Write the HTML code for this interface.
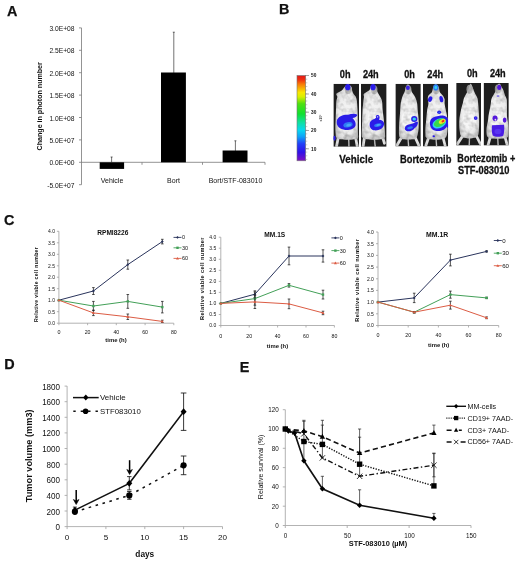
<!DOCTYPE html>
<html><head><meta charset="utf-8"><title>Figure</title>
<style>
html,body{margin:0;padding:0;background:#fff;}
body{width:520px;height:568px;overflow:hidden;font-family:"Liberation Sans",sans-serif;}
svg{display:block;}
#root{filter:blur(0.4px);}
text{font-family:"Liberation Sans",sans-serif;fill:#111;}
.b{font-weight:bold;}
.ax{stroke:#a0a0a0;stroke-width:0.8;fill:none;}
.k{stroke:#111;fill:none;}
#pA .ax{stroke:#787878;}
</style></head><body>
<svg id="root" width="520" height="568" viewBox="0 0 520 568">
<defs>
<linearGradient id="cb" x1="0" y1="0" x2="0" y2="1">
<stop offset="0" stop-color="#e01818"/><stop offset="0.05" stop-color="#f03010"/><stop offset="0.10" stop-color="#f87808"/><stop offset="0.20" stop-color="#f8e800"/><stop offset="0.25" stop-color="#d8f000"/>
<stop offset="0.33" stop-color="#50e010"/><stop offset="0.45" stop-color="#10e030"/><stop offset="0.55" stop-color="#10e0a0"/><stop offset="0.64" stop-color="#08d8f0"/><stop offset="0.72" stop-color="#10a0f8"/>
<stop offset="0.80" stop-color="#2040f8"/><stop offset="0.90" stop-color="#3010e8"/><stop offset="1" stop-color="#8010c0"/>
</linearGradient>
<filter id="bl" x="-20%" y="-20%" width="140%" height="140%"><feGaussianBlur stdDeviation="0.7"/></filter>
<radialGradient id="mg" cx="0.5" cy="0.55" r="0.6"><stop offset="0" stop-color="#f7f7f7"/><stop offset="0.6" stop-color="#ececec"/><stop offset="0.85" stop-color="#d6d6d6"/><stop offset="1" stop-color="#b4b4b4"/></radialGradient>
<filter id="bl3" x="-20%" y="-20%" width="140%" height="140%"><feGaussianBlur stdDeviation="0.45"/></filter>
<filter id="fur" x="-5%" y="-5%" width="110%" height="110%"><feTurbulence type="fractalNoise" baseFrequency="0.2" numOctaves="2" seed="7" result="n"/><feColorMatrix in="n" type="matrix" values="0 0 0 0 0  0 0 0 0 0  0 0 0 0 0  1.0 0 0 0 -0.40" result="a"/><feComposite in="a" in2="SourceGraphic" operator="in" result="sh"/><feMerge result="m"><feMergeNode in="SourceGraphic"/><feMergeNode in="sh"/></feMerge><feGaussianBlur in="m" stdDeviation="0.55"/></filter>
<filter id="bl2" x="-20%" y="-20%" width="140%" height="140%"><feGaussianBlur stdDeviation="1.2"/></filter>
</defs>
<rect width="520" height="568" fill="#fff"/>

<text class="b" x="6.9" y="15.9" font-size="14.4" stroke="#111" stroke-width="0.25">A</text>
<text class="b" x="279.1" y="14.4" font-size="14.4" stroke="#111" stroke-width="0.25">B</text>
<text class="b" x="4.1" y="224.7" font-size="14.4" stroke="#111" stroke-width="0.25">C</text>
<text class="b" x="4.35" y="368.8" font-size="14.4" stroke="#111" stroke-width="0.25">D</text>
<text class="b" x="239.85" y="371.9" font-size="14.4" stroke="#111" stroke-width="0.25">E</text>
<g id="pA">
<line class="ax" x1="81.5" y1="27.900000000000034" x2="81.5" y2="184.70000000000002"/>
<line class="ax" x1="81.5" y1="162.3" x2="265" y2="162.3"/>
<line class="ax" x1="79.0" y1="184.7" x2="81.5" y2="184.7"/>
<text x="74.5" y="187.7" font-size="6.7" text-anchor="end">-5.0E+07</text>
<line class="ax" x1="79.0" y1="162.3" x2="81.5" y2="162.3"/>
<text x="74.5" y="165.3" font-size="6.7" text-anchor="end">0.0E+00</text>
<line class="ax" x1="79.0" y1="139.9" x2="81.5" y2="139.9"/>
<text x="74.5" y="142.9" font-size="6.7" text-anchor="end">5.0E+07</text>
<line class="ax" x1="79.0" y1="117.5" x2="81.5" y2="117.5"/>
<text x="74.5" y="120.5" font-size="6.7" text-anchor="end">1.0E+08</text>
<line class="ax" x1="79.0" y1="95.1" x2="81.5" y2="95.1"/>
<text x="74.5" y="98.1" font-size="6.7" text-anchor="end">1.5E+08</text>
<line class="ax" x1="79.0" y1="72.7" x2="81.5" y2="72.7"/>
<text x="74.5" y="75.7" font-size="6.7" text-anchor="end">2.0E+08</text>
<line class="ax" x1="79.0" y1="50.3" x2="81.5" y2="50.3"/>
<text x="74.5" y="53.3" font-size="6.7" text-anchor="end">2.5E+08</text>
<line class="ax" x1="79.0" y1="27.9" x2="81.5" y2="27.9"/>
<text x="74.5" y="30.9" font-size="6.7" text-anchor="end">3.0E+08</text>
<rect x="99.7" y="162.3" width="24.4" height="6.6" fill="#000"/>
<rect x="161.0" y="72.5" width="24.9" height="89.80000000000001" fill="#000"/>
<rect x="222.6" y="150.5" width="24.9" height="11.800000000000011" fill="#000"/>
<path class="ax" d="M142 162.3v2.5M202.5 162.3v2.5M265 162.3v2.5"/>
<line class="k" stroke-width="0.6" x1="111.6" y1="157" x2="111.6" y2="162.3"/>
<line class="k" stroke-width="0.6" x1="110.6" y1="157" x2="112.6" y2="157"/>
<line class="k" stroke-width="0.6" x1="173.8" y1="32.2" x2="173.8" y2="73"/>
<line class="k" stroke-width="0.6" x1="172.8" y1="32.2" x2="174.8" y2="32.2"/>
<line class="k" stroke-width="0.6" x1="235.4" y1="140.8" x2="235.4" y2="151"/>
<line class="k" stroke-width="0.6" x1="234.4" y1="140.8" x2="236.4" y2="140.8"/>
<text x="112" y="183" font-size="7" text-anchor="middle">Vehicle</text>
<text x="173.5" y="183" font-size="7" text-anchor="middle">Bort</text>
<text x="235.5" y="183" font-size="7" text-anchor="middle">Bort/STF-083010</text>
<text class="b" transform="translate(42.4,106.3) rotate(-90)" font-size="7.1" text-anchor="middle">Change in photon number</text>
</g>
<g id="pB">
<rect x="297" y="75.5" width="8.7" height="85.3" fill="url(#cb)" stroke="#777" stroke-width="0.6"/>
<line x1="305.7" y1="75.5" x2="309" y2="75.5" stroke="#555" stroke-width="0.5"/>
<text x="311" y="77.2" font-size="4.8" class="b" fill="#2a2a3a">50</text>
<line x1="305.7" y1="94" x2="309" y2="94" stroke="#555" stroke-width="0.5"/>
<text x="311" y="95.7" font-size="4.8" class="b" fill="#2a2a3a">40</text>
<line x1="305.7" y1="112.2" x2="309" y2="112.2" stroke="#555" stroke-width="0.5"/>
<text x="311" y="113.9" font-size="4.8" class="b" fill="#2a2a3a">30</text>
<line x1="305.7" y1="130.5" x2="309" y2="130.5" stroke="#555" stroke-width="0.5"/>
<text x="311" y="132.2" font-size="4.8" class="b" fill="#2a2a3a">20</text>
<line x1="305.7" y1="148.8" x2="309" y2="148.8" stroke="#555" stroke-width="0.5"/>
<text x="311" y="150.5" font-size="4.8" class="b" fill="#2a2a3a">10</text>
<line x1="305.7" y1="79.2" x2="307.3" y2="79.2" stroke="#777" stroke-width="0.4"/>
<line x1="305.7" y1="82.8" x2="307.3" y2="82.8" stroke="#777" stroke-width="0.4"/>
<line x1="305.7" y1="86.5" x2="307.3" y2="86.5" stroke="#777" stroke-width="0.4"/>
<line x1="305.7" y1="90.1" x2="307.3" y2="90.1" stroke="#777" stroke-width="0.4"/>
<line x1="305.7" y1="93.8" x2="307.3" y2="93.8" stroke="#777" stroke-width="0.4"/>
<line x1="305.7" y1="97.4" x2="307.3" y2="97.4" stroke="#777" stroke-width="0.4"/>
<line x1="305.7" y1="101.0" x2="307.3" y2="101.0" stroke="#777" stroke-width="0.4"/>
<line x1="305.7" y1="104.7" x2="307.3" y2="104.7" stroke="#777" stroke-width="0.4"/>
<line x1="305.7" y1="108.3" x2="307.3" y2="108.3" stroke="#777" stroke-width="0.4"/>
<line x1="305.7" y1="112.0" x2="307.3" y2="112.0" stroke="#777" stroke-width="0.4"/>
<line x1="305.7" y1="115.7" x2="307.3" y2="115.7" stroke="#777" stroke-width="0.4"/>
<line x1="305.7" y1="119.3" x2="307.3" y2="119.3" stroke="#777" stroke-width="0.4"/>
<line x1="305.7" y1="122.9" x2="307.3" y2="122.9" stroke="#777" stroke-width="0.4"/>
<line x1="305.7" y1="126.6" x2="307.3" y2="126.6" stroke="#777" stroke-width="0.4"/>
<line x1="305.7" y1="130.2" x2="307.3" y2="130.2" stroke="#777" stroke-width="0.4"/>
<line x1="305.7" y1="133.9" x2="307.3" y2="133.9" stroke="#777" stroke-width="0.4"/>
<line x1="305.7" y1="137.6" x2="307.3" y2="137.6" stroke="#777" stroke-width="0.4"/>
<line x1="305.7" y1="141.2" x2="307.3" y2="141.2" stroke="#777" stroke-width="0.4"/>
<line x1="305.7" y1="144.8" x2="307.3" y2="144.8" stroke="#777" stroke-width="0.4"/>
<line x1="305.7" y1="148.5" x2="307.3" y2="148.5" stroke="#777" stroke-width="0.4"/>
<line x1="305.7" y1="152.1" x2="307.3" y2="152.1" stroke="#777" stroke-width="0.4"/>
<line x1="305.7" y1="155.8" x2="307.3" y2="155.8" stroke="#777" stroke-width="0.4"/>
<line x1="305.7" y1="159.4" x2="307.3" y2="159.4" stroke="#777" stroke-width="0.4"/>
<text transform="translate(322,118) rotate(-90)" font-size="3.5" text-anchor="middle" fill="#444">x10⁶</text>
<svg x="333.4" y="83.8" width="25.6" height="63.0" viewBox="0 0 26 62.5" preserveAspectRatio="none" overflow="hidden">
<rect width="26" height="62.5" fill="#1e1e1e"/>
<g filter="url(#fur)">
<path d="M15.5,54 L15.8,62.5" stroke="#c4c4c4" stroke-width="1.4" fill="none"/>
<path d="M5,53 L3.2,62" stroke="#e2e2e2" stroke-width="2.8" fill="none" stroke-linecap="round"/>
<path d="M22.5,53 L24.2,62" stroke="#e2e2e2" stroke-width="2.8" fill="none" stroke-linecap="round"/>
<path d="M7.50,55.03C4.25,54.72 3.87,54.01 3.00,53.17C2.13,52.33 2.47,51.53 2.30,50.00C2.13,48.47 2.00,46.40 2.00,44.00C2.00,41.60 2.20,38.60 2.30,35.60C2.40,32.60 2.48,28.98 2.60,26.00C2.72,23.02 2.77,19.88 3.00,17.70C3.23,15.52 4.00,14.20 4.00,12.90C4.00,11.60 2.32,10.90 3.00,9.90C3.68,8.90 6.73,8.00 8.10,6.90C9.47,5.80 10.18,4.33 11.20,3.30C12.22,2.27 13.50,1.13 14.20,0.70C14.90,0.27 14.68,0.27 15.40,0.70C16.12,1.13 17.88,2.27 18.50,3.30C19.12,4.33 18.80,5.80 19.10,6.90C19.40,8.00 19.70,8.90 20.30,9.90C20.90,10.90 22.10,11.60 22.70,12.90C23.30,14.20 23.60,15.52 23.90,17.70C24.20,19.88 24.35,23.02 24.50,26.00C24.65,28.98 24.75,32.60 24.80,35.60C24.85,38.60 24.77,41.60 24.80,44.00C24.83,46.40 24.97,48.47 25.00,50.00C25.03,51.53 25.42,52.33 25.00,53.17C24.58,54.01 25.42,54.72 22.50,55.03C19.58,55.34 10.75,55.34 7.50,55.03Z" fill="url(#mg)"/>
<ellipse cx="15.0" cy="5.7" rx="3.2" ry="4.5" fill="#b0b0b0" opacity="0.8"/>
<ellipse cx="15.0" cy="36" rx="7" ry="10" fill="#f8f8f8" opacity="0.75"/>
<ellipse cx="15.0" cy="53" rx="5" ry="2.6" fill="#cacaca" opacity="0.7"/>
</g>
<g filter="url(#bl3)">
<ellipse cx="14.6" cy="3.3" rx="2.7" ry="3.105" fill="#2b1ee8"/>
<path d="M3.4,37 C4.4,32.4 10,30.6 15,30.8 C18,29.6 22,29.2 24.4,30.6 C24.2,32.6 21.6,33.4 19.4,34 C21.2,35.8 23,38 22.6,41 C21.4,44.6 16.6,46.2 12,45.8 C7,45.4 2.6,42 3.4,37Z" fill="#2b1ee8"/>
<ellipse cx="14.8" cy="40.6" rx="4.8" ry="2.6" fill="#2f7cf4" transform="rotate(-12,14.8,40.6)"/>
<ellipse cx="15.6" cy="41" rx="2.6" ry="1.3" fill="#49a8f6" transform="rotate(-12,15.6,41)"/>
<ellipse cx="1.0" cy="54" rx="1.3" ry="2.4" fill="#2b1ee8" transform="rotate(0,1.0,54)"/>
</g></svg>
<svg x="361" y="83.8" width="25.6" height="63.0" viewBox="0 0 26 62.5" preserveAspectRatio="none" overflow="hidden">
<rect width="26" height="62.5" fill="#1e1e1e"/>
<g filter="url(#fur)">
<path d="M13.5,54 L14.5,62.5" stroke="#c4c4c4" stroke-width="1.4" fill="none"/>
<path d="M3.5,53 L2.2,61.5" stroke="#e2e2e2" stroke-width="2.8" fill="none" stroke-linecap="round"/>
<path d="M22,53 L23.8,59" stroke="#e2e2e2" stroke-width="2.8" fill="none" stroke-linecap="round"/>
<path d="M6.00,55.03C2.73,54.74 2.28,54.13 1.40,53.29C0.52,52.46 0.78,51.55 0.70,50.00C0.62,48.45 0.82,46.40 0.90,44.00C0.98,41.60 1.08,38.60 1.20,35.60C1.32,32.60 1.40,28.98 1.60,26.00C1.80,23.02 2.17,19.88 2.40,17.70C2.63,15.52 2.90,14.20 3.00,12.90C3.10,11.60 2.08,11.00 3.00,9.90C3.92,8.80 7.43,7.38 8.50,6.30C9.57,5.22 8.92,4.30 9.40,3.40C9.88,2.50 10.80,1.32 11.40,0.90C12.00,0.48 12.37,0.48 13.00,0.90C13.63,1.32 14.72,2.50 15.20,3.40C15.68,4.30 15.48,5.22 15.90,6.30C16.32,7.38 17.10,8.80 17.70,9.90C18.30,11.00 18.88,11.60 19.50,12.90C20.12,14.20 20.98,15.52 21.40,17.70C21.82,19.88 21.70,23.02 22.00,26.00C22.30,28.98 22.87,32.60 23.20,35.60C23.53,38.60 23.80,41.60 24.00,44.00C24.20,46.40 24.37,48.45 24.40,50.00C24.43,51.55 24.77,52.46 24.20,53.29C23.63,54.13 24.03,54.74 21.00,55.03C17.97,55.32 9.27,55.32 6.00,55.03Z" fill="url(#mg)"/>
<ellipse cx="13.5" cy="5.9" rx="3.2" ry="4.5" fill="#b0b0b0" opacity="0.8"/>
<ellipse cx="13.5" cy="36" rx="7" ry="10" fill="#f8f8f8" opacity="0.75"/>
<ellipse cx="13.5" cy="53" rx="5" ry="2.6" fill="#cacaca" opacity="0.7"/>
</g>
<g filter="url(#bl3)">
<ellipse cx="12.2" cy="3.4" rx="2.7" ry="3.105" fill="#2b1ee8"/>
<path d="M9,38.6 C10,35.6 13.4,35.4 15.4,33.6 C14.4,31.6 15.8,30.4 17.6,31 C19.4,32 19.2,34.2 18.2,35.6 C21,35.6 24,37 23.4,40.4 C22.8,44.4 18.4,46.4 14,46.2 C10.2,46 8,42.8 9,38.6Z" fill="#2b1ee8"/>
<ellipse cx="17.1" cy="41" rx="3.8" ry="1.7" fill="#2f7cf4" transform="rotate(-12,17.1,41)"/>
<ellipse cx="17.6" cy="40.8" rx="2" ry="0.9" fill="#49a8f6" transform="rotate(-12,17.6,40.8)"/>
<ellipse cx="16.8" cy="32.8" rx="0.8" ry="0.7" fill="#e4e4f4" transform="rotate(0,16.8,32.8)"/>
</g></svg>
<svg x="395.4" y="83.8" width="25.4" height="62.7" viewBox="0 0 26 62.5" preserveAspectRatio="none" overflow="hidden">
<rect width="26" height="62.5" fill="#1e1e1e"/>
<g filter="url(#fur)">
<path d="M13,54 L13.5,62.5" stroke="#c4c4c4" stroke-width="1.4" fill="none"/>
<path d="M6.5,53 L1.5,61.5" stroke="#e2e2e2" stroke-width="2.8" fill="none" stroke-linecap="round"/>
<path d="M20,53 L24,61.5" stroke="#e2e2e2" stroke-width="2.8" fill="none" stroke-linecap="round"/>
<path d="M7.40,55.15C4.98,54.84 5.12,54.15 4.50,53.29C3.88,52.44 3.83,51.55 3.70,50.00C3.57,48.45 3.62,46.40 3.70,44.00C3.78,41.60 4.00,38.40 4.20,35.60C4.40,32.80 4.70,29.80 4.90,27.20C5.10,24.60 5.15,21.98 5.40,20.00C5.65,18.02 6.03,16.68 6.40,15.30C6.77,13.92 7.10,12.90 7.60,11.70C8.10,10.50 8.90,9.38 9.40,8.10C9.90,6.82 10.17,5.18 10.60,4.00C11.03,2.82 11.50,1.50 12.00,1.00C12.50,0.50 13.07,0.50 13.60,1.00C14.13,1.50 14.67,2.82 15.20,4.00C15.73,5.18 16.12,6.82 16.80,8.10C17.48,9.38 18.58,10.50 19.30,11.70C20.02,12.90 20.60,13.92 21.10,15.30C21.60,16.68 22.00,18.02 22.30,20.00C22.60,21.98 22.65,24.60 22.90,27.20C23.15,29.80 23.65,32.80 23.80,35.60C23.95,38.40 23.95,41.60 23.80,44.00C23.65,46.40 23.25,48.45 22.90,50.00C22.55,51.55 22.35,52.44 21.70,53.29C21.05,54.15 21.38,54.84 19.00,55.15C16.62,55.46 9.82,55.46 7.40,55.15Z" fill="url(#mg)"/>
<ellipse cx="13.2" cy="6.0" rx="3.2" ry="4.5" fill="#b0b0b0" opacity="0.8"/>
<ellipse cx="13.2" cy="36" rx="7" ry="10" fill="#f8f8f8" opacity="0.75"/>
<ellipse cx="13.2" cy="53" rx="5" ry="2.6" fill="#cacaca" opacity="0.7"/>
</g>
<g filter="url(#bl3)">
<ellipse cx="12.8" cy="3.9" rx="2.0" ry="2.3" fill="#3a22e0"/>
<ellipse cx="19.3" cy="35" rx="3.2" ry="3.0" fill="#2b1ee8" transform="rotate(0,19.3,35)"/>
<ellipse cx="19.3" cy="35" rx="1.8" ry="1.5" fill="#30d0f0" transform="rotate(0,19.3,35)"/>
<path d="M9.8,43.6 C10.8,40.6 14,40.4 17,39.8 C19.4,39.2 21.4,37 23,38 C23.4,40.6 21.8,42.8 19.8,44 C18,46.8 14.4,47.8 12,47.2 C10,46.8 9.2,45.2 9.8,43.6Z" fill="#2b1ee8"/>
<ellipse cx="15" cy="43.8" rx="3" ry="1.3" fill="#2f7cf4" transform="rotate(-10,15,43.8)"/>
</g></svg>
<svg x="423" y="83.8" width="25.2" height="62.7" viewBox="0 0 26 62.5" preserveAspectRatio="none" overflow="hidden">
<rect width="26" height="62.5" fill="#1e1e1e"/>
<g filter="url(#fur)">
<path d="M13.5,54 L14,62.5" stroke="#c4c4c4" stroke-width="1.4" fill="none"/>
<path d="M6,53 L3,61.5" stroke="#e2e2e2" stroke-width="2.8" fill="none" stroke-linecap="round"/>
<path d="M20.5,53 L22.8,61.5" stroke="#e2e2e2" stroke-width="2.8" fill="none" stroke-linecap="round"/>
<path d="M7.00,55.22C4.18,54.90 3.85,54.16 3.10,53.29C2.35,52.42 2.60,51.55 2.50,50.00C2.40,48.45 2.40,46.00 2.50,44.00C2.60,42.00 2.90,40.00 3.10,38.00C3.30,36.00 3.50,34.00 3.70,32.00C3.90,30.00 3.98,28.00 4.30,26.00C4.62,24.00 5.48,21.78 5.60,20.00C5.72,18.22 5.00,16.68 5.00,15.30C5.00,13.92 4.88,12.90 5.60,11.70C6.32,10.50 8.50,9.38 9.30,8.10C10.10,6.82 9.88,5.18 10.40,4.00C10.92,2.82 11.80,1.50 12.40,1.00C13.00,0.50 13.37,0.50 14.00,1.00C14.63,1.50 15.65,2.82 16.20,4.00C16.75,5.18 16.60,6.82 17.30,8.10C18.00,9.38 19.57,10.50 20.40,11.70C21.23,12.90 21.98,13.92 22.30,15.30C22.62,16.68 22.10,18.22 22.30,20.00C22.50,21.78 23.08,24.00 23.50,26.00C23.92,28.00 24.48,30.00 24.80,32.00C25.12,34.00 25.30,36.00 25.40,38.00C25.50,40.00 25.50,42.00 25.40,44.00C25.30,46.00 25.12,48.45 24.80,50.00C24.48,51.55 24.30,52.42 23.50,53.29C22.70,54.16 22.75,54.90 20.00,55.22C17.25,55.54 9.82,55.54 7.00,55.22Z" fill="url(#mg)"/>
<ellipse cx="13.5" cy="6.0" rx="3.2" ry="4.5" fill="#b0b0b0" opacity="0.8"/>
<ellipse cx="13.5" cy="36" rx="7" ry="10" fill="#f8f8f8" opacity="0.75"/>
<ellipse cx="13.5" cy="53" rx="5" ry="2.6" fill="#cacaca" opacity="0.7"/>
</g>
<g filter="url(#bl3)">
<ellipse cx="13.2" cy="3.6" rx="2.7" ry="3.105" fill="#2f7cf4"/>
<ellipse cx="13.2" cy="3.6" rx="1.4850000000000003" ry="1.62" fill="#30d0f0"/>
<ellipse cx="7.4" cy="15.3" rx="2.1" ry="2.9" fill="#2b1ee8" transform="rotate(25,7.4,15.3)"/>
<ellipse cx="18.9" cy="15.3" rx="1.9" ry="3.2" fill="#2b1ee8" transform="rotate(-12,18.9,15.3)"/>
<ellipse cx="16.7" cy="28.4" rx="2.1" ry="1.8" fill="#2b1ee8" transform="rotate(0,16.7,28.4)"/>
<ellipse cx="16.7" cy="28.4" rx="0.8" ry="0.6" fill="#2f7cf4" transform="rotate(0,16.7,28.4)"/>
<path d="M7.6,36.6 C9,32.8 14,32.6 17,31.8 C20,31 25,31.6 25.8,35.4 C26.4,39.4 25.4,43.6 21.4,45.8 C17.2,48 11.8,47.4 9.2,45 C7,42.8 6.6,39 7.6,36.6Z" fill="#2b1ee8"/>
<ellipse cx="16.8" cy="39.4" rx="7.4" ry="4.7" fill="#30d0f0" transform="rotate(-22,16.8,39.4)"/>
<ellipse cx="17.2" cy="38.8" rx="6.3" ry="3.7" fill="#38d848" transform="rotate(-24,17.2,38.8)"/>
<ellipse cx="19.8" cy="37.4" rx="3.7" ry="2.1" fill="#f0e628" transform="rotate(-26,19.8,37.4)"/>
<ellipse cx="20.6" cy="37.2" rx="1.6" ry="1.1" fill="#ee2a1c" transform="rotate(-26,20.6,37.2)"/>
<ellipse cx="11.1" cy="52.3" rx="1.3" ry="1" fill="#2b1ee8" transform="rotate(0,11.1,52.3)"/>
<ellipse cx="25.4" cy="41.6" rx="0.8" ry="2.4" fill="#2b1ee8" transform="rotate(0,25.4,41.6)"/>
</g></svg>
<svg x="456.2" y="83" width="24.8" height="62.6" viewBox="0 0 26 62.5" preserveAspectRatio="none" overflow="hidden">
<rect width="26" height="62.5" fill="#1e1e1e"/>
<g filter="url(#fur)">
<path d="M14,54 L13.6,62.5" stroke="#c4c4c4" stroke-width="1.4" fill="none"/>
<path d="M7,52.5 L1.5,60.5" stroke="#e2e2e2" stroke-width="2.8" fill="none" stroke-linecap="round"/>
<path d="M21,52.5 L25.2,60.5" stroke="#e2e2e2" stroke-width="2.8" fill="none" stroke-linecap="round"/>
<path d="M8.50,54.72C6.08,54.41 5.75,53.65 5.00,52.86C4.25,52.07 4.30,51.64 4.00,50.00C3.70,48.36 3.28,45.50 3.20,43.00C3.12,40.50 3.20,37.67 3.50,35.00C3.80,32.33 4.42,29.50 5.00,27.00C5.58,24.50 6.47,22.00 7.00,20.00C7.53,18.00 7.53,16.67 8.20,15.00C8.87,13.33 10.20,11.67 11.00,10.00C11.80,8.33 12.40,6.47 13.00,5.00C13.60,3.53 14.13,1.83 14.60,1.20C15.07,0.57 15.32,0.57 15.80,1.20C16.28,1.83 16.88,3.53 17.50,5.00C18.12,6.47 18.72,8.33 19.50,10.00C20.28,11.67 21.62,13.33 22.20,15.00C22.78,16.67 22.78,18.00 23.00,20.00C23.22,22.00 23.33,24.50 23.50,27.00C23.67,29.50 23.92,32.33 24.00,35.00C24.08,37.67 24.08,40.50 24.00,43.00C23.92,45.50 23.75,48.36 23.50,50.00C23.25,51.64 23.17,52.07 22.50,52.86C21.83,53.65 21.83,54.41 19.50,54.72C17.17,55.03 10.92,55.03 8.50,54.72Z" fill="url(#mg)"/>
<ellipse cx="14.0" cy="6.2" rx="3.2" ry="4.5" fill="#b0b0b0" opacity="0.8"/>
<ellipse cx="14.0" cy="36" rx="7" ry="10" fill="#f8f8f8" opacity="0.75"/>
<ellipse cx="14.0" cy="53" rx="5" ry="2.6" fill="#cacaca" opacity="0.7"/>
</g>
<g filter="url(#bl3)">
<ellipse cx="20.4" cy="35" rx="1.9" ry="1.9" fill="#2b1ee8" transform="rotate(0,20.4,35)"/>
<ellipse cx="20.4" cy="35" rx="0.8" ry="0.8" fill="#5a4af0" transform="rotate(0,20.4,35)"/>
</g></svg>
<svg x="483.6" y="83" width="25.2" height="62.6" viewBox="0 0 26 62.5" preserveAspectRatio="none" overflow="hidden">
<rect width="26" height="62.5" fill="#1e1e1e"/>
<g filter="url(#fur)">
<path d="M14.5,54.5 L15,62.5" stroke="#c4c4c4" stroke-width="1.4" fill="none"/>
<path d="M7,53.5 L4.6,62" stroke="#e2e2e2" stroke-width="2.8" fill="none" stroke-linecap="round"/>
<path d="M22,53.5 L24.4,62" stroke="#e2e2e2" stroke-width="2.8" fill="none" stroke-linecap="round"/>
<path d="M8.00,55.34C5.13,55.09 5.12,54.61 4.30,53.85C3.48,53.10 3.30,52.31 3.10,50.80C2.90,49.29 2.90,46.80 3.10,44.80C3.30,42.80 3.98,40.78 4.30,38.80C4.62,36.82 4.68,34.87 5.00,32.90C5.32,30.93 5.80,28.98 6.20,27.00C6.60,25.02 7.10,22.82 7.40,21.00C7.70,19.18 7.48,17.70 8.00,16.10C8.52,14.50 9.67,12.88 10.50,11.40C11.33,9.92 12.38,8.60 13.00,7.20C13.62,5.80 13.83,4.03 14.20,3.00C14.57,1.97 14.73,1.33 15.20,1.00C15.67,0.67 16.53,0.67 17.00,1.00C17.47,1.33 17.43,1.97 18.00,3.00C18.57,4.03 19.78,5.80 20.40,7.20C21.02,8.60 21.13,9.92 21.70,11.40C22.27,12.88 23.40,14.50 23.80,16.10C24.20,17.70 24.05,19.18 24.10,21.00C24.15,22.82 24.10,25.02 24.10,27.00C24.10,28.98 23.95,30.93 24.10,32.90C24.25,34.87 24.72,36.82 25.00,38.80C25.28,40.78 25.67,42.80 25.80,44.80C25.93,46.80 25.97,49.29 25.80,50.80C25.63,52.31 25.52,53.10 24.80,53.85C24.08,54.61 24.30,55.09 21.50,55.34C18.70,55.59 10.87,55.59 8.00,55.34Z" fill="url(#mg)"/>
<ellipse cx="14.75" cy="6.0" rx="3.2" ry="4.5" fill="#b0b0b0" opacity="0.8"/>
<ellipse cx="14.75" cy="36" rx="7" ry="10" fill="#f8f8f8" opacity="0.75"/>
<ellipse cx="14.75" cy="53" rx="5" ry="2.6" fill="#cacaca" opacity="0.7"/>
</g>
<g filter="url(#bl3)">
<ellipse cx="16.1" cy="4.4" rx="2.2" ry="2.53" fill="#5418dc"/>
<ellipse cx="11.8" cy="35.3" rx="2.6" ry="2.8" fill="#5418dc" transform="rotate(0,11.8,35.3)"/>
<ellipse cx="12.2" cy="36.8" rx="0.9" ry="1.0" fill="#e0e0e0" transform="rotate(0,12.2,36.8)"/>
<ellipse cx="21.7" cy="37" rx="1.9" ry="2.6" fill="#5418dc" transform="rotate(0,21.7,37)"/>
<path d="M8.8,42.2 L21,41.8 C21.6,45.6 21.4,49.6 20.2,52.6 C17.2,54 12.2,54 9.4,52.4 C8.2,49.4 8.2,45.4 8.8,42.2Z" fill="#4a1ce4"/>
<ellipse cx="14.8" cy="48.4" rx="3.6" ry="2.6" fill="#5a34f0" transform="rotate(0,14.8,48.4)"/>
<ellipse cx="14.9" cy="13.1" rx="1.6" ry="0.8" fill="#7a6ae8" transform="rotate(0,14.9,13.1)"/>
</g></svg>
<text class="b" transform="translate(345.2,77.5) scale(0.875,1)" font-size="10.5" text-anchor="middle" stroke="#111" stroke-width="0.3">0h</text>
<text class="b" transform="translate(370.8,77.5) scale(0.875,1)" font-size="10.5" text-anchor="middle" stroke="#111" stroke-width="0.3">24h</text>
<text class="b" transform="translate(409.6,77.9) scale(0.875,1)" font-size="10.5" text-anchor="middle" stroke="#111" stroke-width="0.3">0h</text>
<text class="b" transform="translate(435.2,77.9) scale(0.875,1)" font-size="10.5" text-anchor="middle" stroke="#111" stroke-width="0.3">24h</text>
<text class="b" transform="translate(472.3,76.6) scale(0.875,1)" font-size="10.5" text-anchor="middle" stroke="#111" stroke-width="0.3">0h</text>
<text class="b" transform="translate(497.8,76.6) scale(0.875,1)" font-size="10.5" text-anchor="middle" stroke="#111" stroke-width="0.3">24h</text>
<text class="b" transform="translate(356.2,163.3) scale(0.875,1)" font-size="11.2" text-anchor="middle" stroke="#111" stroke-width="0.3">Vehicle</text>
<text class="b" transform="translate(425.7,163.3) scale(0.835,1)" font-size="11.2" text-anchor="middle" stroke="#111" stroke-width="0.3">Bortezomib</text>
<text class="b" transform="translate(457.3,161.8) scale(0.86,1)" font-size="10.6" text-anchor="start" stroke="#111" stroke-width="0.3">Bortezomib +</text>
<text class="b" transform="translate(458,174) scale(0.875,1)" font-size="10.6" text-anchor="start" stroke="#111" stroke-width="0.3">STF-083010</text>
</g>
<g>
<line class="ax" x1="58.9" y1="231.3" x2="58.9" y2="323.2"/>
<line class="ax" x1="58.9" y1="323.2" x2="173.8" y2="323.2"/>
<line class="ax" x1="56.9" y1="323.2" x2="58.9" y2="323.2"/>
<text transform="translate(55.0,325.1) scale(0.88,1.1)" font-size="5.7" text-anchor="end">0.0</text>
<line class="ax" x1="56.9" y1="311.7" x2="58.9" y2="311.7"/>
<text transform="translate(55.0,313.6) scale(0.88,1.1)" font-size="5.7" text-anchor="end">0.5</text>
<line class="ax" x1="56.9" y1="300.2" x2="58.9" y2="300.2"/>
<text transform="translate(55.0,302.1) scale(0.88,1.1)" font-size="5.7" text-anchor="end">1.0</text>
<line class="ax" x1="56.9" y1="288.7" x2="58.9" y2="288.7"/>
<text transform="translate(55.0,290.6) scale(0.88,1.1)" font-size="5.7" text-anchor="end">1.5</text>
<line class="ax" x1="56.9" y1="277.2" x2="58.9" y2="277.2"/>
<text transform="translate(55.0,279.1) scale(0.88,1.1)" font-size="5.7" text-anchor="end">2.0</text>
<line class="ax" x1="56.9" y1="265.8" x2="58.9" y2="265.8"/>
<text transform="translate(55.0,267.7) scale(0.88,1.1)" font-size="5.7" text-anchor="end">2.5</text>
<line class="ax" x1="56.9" y1="254.3" x2="58.9" y2="254.3"/>
<text transform="translate(55.0,256.2) scale(0.88,1.1)" font-size="5.7" text-anchor="end">3.0</text>
<line class="ax" x1="56.9" y1="242.8" x2="58.9" y2="242.8"/>
<text transform="translate(55.0,244.7) scale(0.88,1.1)" font-size="5.7" text-anchor="end">3.5</text>
<line class="ax" x1="56.9" y1="231.3" x2="58.9" y2="231.3"/>
<text transform="translate(55.0,233.2) scale(0.88,1.1)" font-size="5.7" text-anchor="end">4.0</text>
<line class="ax" x1="58.9" y1="323.2" x2="58.9" y2="325.2"/>
<text x="58.9" y="333.6" font-size="5.7" text-anchor="middle" textLength="3.0" lengthAdjust="spacingAndGlyphs">0</text>
<line class="ax" x1="87.6" y1="323.2" x2="87.6" y2="325.2"/>
<text x="87.6" y="333.6" font-size="5.7" text-anchor="middle" textLength="5.8" lengthAdjust="spacingAndGlyphs">20</text>
<line class="ax" x1="116.3" y1="323.2" x2="116.3" y2="325.2"/>
<text x="116.3" y="333.6" font-size="5.7" text-anchor="middle" textLength="5.8" lengthAdjust="spacingAndGlyphs">40</text>
<line class="ax" x1="145.1" y1="323.2" x2="145.1" y2="325.2"/>
<text x="145.1" y="333.6" font-size="5.7" text-anchor="middle" textLength="5.8" lengthAdjust="spacingAndGlyphs">60</text>
<line class="ax" x1="173.8" y1="323.2" x2="173.8" y2="325.2"/>
<text x="173.8" y="333.6" font-size="5.7" text-anchor="middle" textLength="5.8" lengthAdjust="spacingAndGlyphs">80</text>
<text class="b" x="112.8" y="235.3" font-size="6.6" text-anchor="middle">RPMI8226</text>
<text class="b" transform="translate(38.0,284.4) rotate(-90)" font-size="5.1" letter-spacing="0.36" text-anchor="middle">Relative viable cell number</text>
<text class="b" x="116" y="342.1" font-size="5.9" text-anchor="middle">time (h)</text>
<path d="M93.4 287.6V294.5M92.1 287.6h2.6M92.1 294.5h2.6" stroke="#1c1c1c" stroke-width="0.75" fill="none"/>
<path d="M127.8 260.0V269.2M126.5 260.0h2.6M126.5 269.2h2.6" stroke="#1c1c1c" stroke-width="0.75" fill="none"/>
<path d="M162.3 239.3V243.9M161.0 239.3h2.6M161.0 243.9h2.6" stroke="#1c1c1c" stroke-width="0.75" fill="none"/>
<polyline points="58.9,300.2 93.4,291.0 127.8,264.6 162.3,241.6" fill="none" stroke="#2a345c" stroke-width="1.0"/>
<path d="M58.9 298.8l1.4 1.4l-1.4 1.4l-1.4 -1.4z" fill="#2a345c"/>
<path d="M93.4 289.6l1.4 1.4l-1.4 1.4l-1.4 -1.4z" fill="#2a345c"/>
<path d="M127.8 263.2l1.4 1.4l-1.4 1.4l-1.4 -1.4z" fill="#2a345c"/>
<path d="M162.3 240.2l1.4 1.4l-1.4 1.4l-1.4 -1.4z" fill="#2a345c"/>
<path d="M93.4 301.4V310.6M92.1 301.4h2.6M92.1 310.6h2.6" stroke="#1c1c1c" stroke-width="0.75" fill="none"/>
<path d="M127.8 294.5V308.3M126.5 294.5h2.6M126.5 308.3h2.6" stroke="#1c1c1c" stroke-width="0.75" fill="none"/>
<path d="M162.3 301.4V312.9M161.0 301.4h2.6M161.0 312.9h2.6" stroke="#1c1c1c" stroke-width="0.75" fill="none"/>
<polyline points="58.9,300.2 93.4,306.0 127.8,301.4 162.3,307.1" fill="none" stroke="#43a058" stroke-width="1.0"/>
<rect x="57.7" y="299.0" width="2.4" height="2.4" fill="#43a058"/>
<rect x="92.2" y="304.8" width="2.4" height="2.4" fill="#43a058"/>
<rect x="126.6" y="300.2" width="2.4" height="2.4" fill="#43a058"/>
<rect x="161.1" y="305.9" width="2.4" height="2.4" fill="#43a058"/>
<path d="M93.4 310.1V315.6M92.1 310.1h2.6M92.1 315.6h2.6" stroke="#1c1c1c" stroke-width="0.75" fill="none"/>
<path d="M127.8 314.0V319.5M126.5 314.0h2.6M126.5 319.5h2.6" stroke="#1c1c1c" stroke-width="0.75" fill="none"/>
<path d="M162.3 320.2V322.5M161.0 320.2h2.6M161.0 322.5h2.6" stroke="#1c1c1c" stroke-width="0.75" fill="none"/>
<polyline points="58.9,300.2 93.4,312.9 127.8,316.8 162.3,321.4" fill="none" stroke="#dc5c44" stroke-width="1.0"/>
<path d="M58.9 298.7l1.5 2.6h-3z" fill="#dc5c44"/>
<path d="M93.4 311.4l1.5 2.6h-3z" fill="#dc5c44"/>
<path d="M127.8 315.3l1.5 2.6h-3z" fill="#dc5c44"/>
<path d="M162.3 319.9l1.5 2.6h-3z" fill="#dc5c44"/>
<line x1="173.5" y1="237.4" x2="181.5" y2="237.4" stroke="#2a345c" stroke-width="0.9"/>
<path d="M177.5 236.0l1.4 1.4l-1.4 1.4l-1.4 -1.4z" fill="#2a345c"/>
<text x="181.9" y="239.4" font-size="5.5">0</text>
<line x1="173.5" y1="247.8" x2="181.5" y2="247.8" stroke="#43a058" stroke-width="0.9"/>
<rect x="176.3" y="246.6" width="2.4" height="2.4" fill="#43a058"/>
<text x="181.9" y="249.8" font-size="5.5">30</text>
<line x1="173.5" y1="258.4" x2="181.5" y2="258.4" stroke="#dc5c44" stroke-width="0.9"/>
<path d="M177.5 256.9l1.5 2.6h-3z" fill="#dc5c44"/>
<text x="181.9" y="260.4" font-size="5.5">60</text>
</g>
<g>
<line class="ax" x1="220.8" y1="237.2" x2="220.8" y2="325.5"/>
<line class="ax" x1="220.8" y1="325.5" x2="334.4" y2="325.5"/>
<line class="ax" x1="218.8" y1="325.5" x2="220.8" y2="325.5"/>
<text transform="translate(216.20000000000002,327.4) scale(0.88,1.1)" font-size="5.7" text-anchor="end">0.0</text>
<line class="ax" x1="218.8" y1="314.5" x2="220.8" y2="314.5"/>
<text transform="translate(216.20000000000002,316.4) scale(0.88,1.1)" font-size="5.7" text-anchor="end">0.5</text>
<line class="ax" x1="218.8" y1="303.4" x2="220.8" y2="303.4"/>
<text transform="translate(216.20000000000002,305.3) scale(0.88,1.1)" font-size="5.7" text-anchor="end">1.0</text>
<line class="ax" x1="218.8" y1="292.4" x2="220.8" y2="292.4"/>
<text transform="translate(216.20000000000002,294.3) scale(0.88,1.1)" font-size="5.7" text-anchor="end">1.5</text>
<line class="ax" x1="218.8" y1="281.4" x2="220.8" y2="281.4"/>
<text transform="translate(216.20000000000002,283.2) scale(0.88,1.1)" font-size="5.7" text-anchor="end">2.0</text>
<line class="ax" x1="218.8" y1="270.3" x2="220.8" y2="270.3"/>
<text transform="translate(216.20000000000002,272.2) scale(0.88,1.1)" font-size="5.7" text-anchor="end">2.5</text>
<line class="ax" x1="218.8" y1="259.3" x2="220.8" y2="259.3"/>
<text transform="translate(216.20000000000002,261.2) scale(0.88,1.1)" font-size="5.7" text-anchor="end">3.0</text>
<line class="ax" x1="218.8" y1="248.2" x2="220.8" y2="248.2"/>
<text transform="translate(216.20000000000002,250.1) scale(0.88,1.1)" font-size="5.7" text-anchor="end">3.5</text>
<line class="ax" x1="218.8" y1="237.2" x2="220.8" y2="237.2"/>
<text transform="translate(216.20000000000002,239.1) scale(0.88,1.1)" font-size="5.7" text-anchor="end">4.0</text>
<line class="ax" x1="220.8" y1="325.5" x2="220.8" y2="327.5"/>
<text x="220.8" y="337.6" font-size="5.7" text-anchor="middle" textLength="3.0" lengthAdjust="spacingAndGlyphs">0</text>
<line class="ax" x1="249.2" y1="325.5" x2="249.2" y2="327.5"/>
<text x="249.2" y="337.6" font-size="5.7" text-anchor="middle" textLength="5.8" lengthAdjust="spacingAndGlyphs">20</text>
<line class="ax" x1="277.6" y1="325.5" x2="277.6" y2="327.5"/>
<text x="277.6" y="337.6" font-size="5.7" text-anchor="middle" textLength="5.8" lengthAdjust="spacingAndGlyphs">40</text>
<line class="ax" x1="306.0" y1="325.5" x2="306.0" y2="327.5"/>
<text x="306.0" y="337.6" font-size="5.7" text-anchor="middle" textLength="5.8" lengthAdjust="spacingAndGlyphs">60</text>
<line class="ax" x1="334.4" y1="325.5" x2="334.4" y2="327.5"/>
<text x="334.4" y="337.6" font-size="5.7" text-anchor="middle" textLength="5.8" lengthAdjust="spacingAndGlyphs">80</text>
<text class="b" x="274.8" y="236.9" font-size="6.6" text-anchor="middle">MM.1S</text>
<text class="b" transform="translate(204.2,278.6) rotate(-90)" font-size="5.6" letter-spacing="0.41" text-anchor="middle">Relative viable cell number</text>
<text class="b" x="277.5" y="347.6" font-size="5.9" text-anchor="middle">time (h)</text>
<path d="M254.9 290.8V297.5M253.6 290.8h2.6M253.6 297.5h2.6" stroke="#1c1c1c" stroke-width="0.75" fill="none"/>
<path d="M289.0 247.1V264.8M287.7 247.1h2.6M287.7 264.8h2.6" stroke="#1c1c1c" stroke-width="0.75" fill="none"/>
<path d="M323.0 249.8V262.1M321.7 249.8h2.6M321.7 262.1h2.6" stroke="#1c1c1c" stroke-width="0.75" fill="none"/>
<polyline points="220.8,303.4 254.9,294.2 289.0,256.0 323.0,256.0" fill="none" stroke="#2a345c" stroke-width="1.0"/>
<path d="M220.8 302.0l1.4 1.4l-1.4 1.4l-1.4 -1.4z" fill="#2a345c"/>
<path d="M254.9 292.8l1.4 1.4l-1.4 1.4l-1.4 -1.4z" fill="#2a345c"/>
<path d="M289.0 254.6l1.4 1.4l-1.4 1.4l-1.4 -1.4z" fill="#2a345c"/>
<path d="M323.0 254.6l1.4 1.4l-1.4 1.4l-1.4 -1.4z" fill="#2a345c"/>
<path d="M254.9 291.9V305.2M253.6 291.9h2.6M253.6 305.2h2.6" stroke="#1c1c1c" stroke-width="0.75" fill="none"/>
<path d="M289.0 283.6V287.1M287.7 283.6h2.6M287.7 287.1h2.6" stroke="#1c1c1c" stroke-width="0.75" fill="none"/>
<path d="M323.0 290.2V299.0M321.7 290.2h2.6M321.7 299.0h2.6" stroke="#1c1c1c" stroke-width="0.75" fill="none"/>
<polyline points="220.8,303.4 254.9,298.6 289.0,285.3 323.0,294.6" fill="none" stroke="#43a058" stroke-width="1.0"/>
<rect x="219.6" y="302.2" width="2.4" height="2.4" fill="#43a058"/>
<rect x="253.7" y="297.4" width="2.4" height="2.4" fill="#43a058"/>
<rect x="287.8" y="284.1" width="2.4" height="2.4" fill="#43a058"/>
<rect x="321.8" y="293.4" width="2.4" height="2.4" fill="#43a058"/>
<path d="M254.9 295.3V308.5M253.6 295.3h2.6M253.6 308.5h2.6" stroke="#1c1c1c" stroke-width="0.75" fill="none"/>
<path d="M289.0 299.0V308.7M287.7 299.0h2.6M287.7 308.7h2.6" stroke="#1c1c1c" stroke-width="0.75" fill="none"/>
<path d="M323.0 311.2V314.7M321.7 311.2h2.6M321.7 314.7h2.6" stroke="#1c1c1c" stroke-width="0.75" fill="none"/>
<polyline points="220.8,303.4 254.9,301.9 289.0,303.9 323.0,312.9" fill="none" stroke="#dc5c44" stroke-width="1.0"/>
<path d="M220.8 301.9l1.5 2.6h-3z" fill="#dc5c44"/>
<path d="M254.9 300.4l1.5 2.6h-3z" fill="#dc5c44"/>
<path d="M289.0 302.4l1.5 2.6h-3z" fill="#dc5c44"/>
<path d="M323.0 311.4l1.5 2.6h-3z" fill="#dc5c44"/>
<line x1="331.4" y1="237.9" x2="339.4" y2="237.9" stroke="#2a345c" stroke-width="0.9"/>
<path d="M335.4 236.5l1.4 1.4l-1.4 1.4l-1.4 -1.4z" fill="#2a345c"/>
<text x="339.79999999999995" y="239.9" font-size="5.5">0</text>
<line x1="331.4" y1="250.6" x2="339.4" y2="250.6" stroke="#43a058" stroke-width="0.9"/>
<rect x="334.2" y="249.4" width="2.4" height="2.4" fill="#43a058"/>
<text x="339.79999999999995" y="252.6" font-size="5.5">30</text>
<line x1="331.4" y1="263.1" x2="339.4" y2="263.1" stroke="#dc5c44" stroke-width="0.9"/>
<path d="M335.4 261.6l1.5 2.6h-3z" fill="#dc5c44"/>
<text x="339.79999999999995" y="265.1" font-size="5.5">60</text>
</g>
<g>
<line class="ax" x1="378.0" y1="232" x2="378.0" y2="325.5"/>
<line class="ax" x1="378.0" y1="325.5" x2="498.7" y2="325.5"/>
<line class="ax" x1="376.0" y1="325.5" x2="378.0" y2="325.5"/>
<text transform="translate(373.85,327.4) scale(0.88,1.1)" font-size="5.7" text-anchor="end">0.0</text>
<line class="ax" x1="376.0" y1="313.8" x2="378.0" y2="313.8"/>
<text transform="translate(373.85,315.7) scale(0.88,1.1)" font-size="5.7" text-anchor="end">0.5</text>
<line class="ax" x1="376.0" y1="302.1" x2="378.0" y2="302.1"/>
<text transform="translate(373.85,304.0) scale(0.88,1.1)" font-size="5.7" text-anchor="end">1.0</text>
<line class="ax" x1="376.0" y1="290.4" x2="378.0" y2="290.4"/>
<text transform="translate(373.85,292.3) scale(0.88,1.1)" font-size="5.7" text-anchor="end">1.5</text>
<line class="ax" x1="376.0" y1="278.8" x2="378.0" y2="278.8"/>
<text transform="translate(373.85,280.6) scale(0.88,1.1)" font-size="5.7" text-anchor="end">2.0</text>
<line class="ax" x1="376.0" y1="267.1" x2="378.0" y2="267.1"/>
<text transform="translate(373.85,269.0) scale(0.88,1.1)" font-size="5.7" text-anchor="end">2.5</text>
<line class="ax" x1="376.0" y1="255.4" x2="378.0" y2="255.4"/>
<text transform="translate(373.85,257.3) scale(0.88,1.1)" font-size="5.7" text-anchor="end">3.0</text>
<line class="ax" x1="376.0" y1="243.7" x2="378.0" y2="243.7"/>
<text transform="translate(373.85,245.6) scale(0.88,1.1)" font-size="5.7" text-anchor="end">3.5</text>
<line class="ax" x1="376.0" y1="232.0" x2="378.0" y2="232.0"/>
<text transform="translate(373.85,233.9) scale(0.88,1.1)" font-size="5.7" text-anchor="end">4.0</text>
<line class="ax" x1="378.0" y1="325.5" x2="378.0" y2="327.5"/>
<text x="378.0" y="336.5" font-size="5.7" text-anchor="middle" textLength="3.0" lengthAdjust="spacingAndGlyphs">0</text>
<line class="ax" x1="408.2" y1="325.5" x2="408.2" y2="327.5"/>
<text x="408.2" y="336.5" font-size="5.7" text-anchor="middle" textLength="5.8" lengthAdjust="spacingAndGlyphs">20</text>
<line class="ax" x1="438.4" y1="325.5" x2="438.4" y2="327.5"/>
<text x="438.4" y="336.5" font-size="5.7" text-anchor="middle" textLength="5.8" lengthAdjust="spacingAndGlyphs">40</text>
<line class="ax" x1="468.5" y1="325.5" x2="468.5" y2="327.5"/>
<text x="468.5" y="336.5" font-size="5.7" text-anchor="middle" textLength="5.8" lengthAdjust="spacingAndGlyphs">60</text>
<line class="ax" x1="498.7" y1="325.5" x2="498.7" y2="327.5"/>
<text x="498.7" y="336.5" font-size="5.7" text-anchor="middle" textLength="5.8" lengthAdjust="spacingAndGlyphs">80</text>
<text class="b" x="437.2" y="236.6" font-size="6.9" text-anchor="middle">MM.1R</text>
<text class="b" transform="translate(359.2,280.2) rotate(-90)" font-size="5.6" letter-spacing="0.41" text-anchor="middle">Relative viable cell number</text>
<text class="b" x="438.7" y="346.5" font-size="5.9" text-anchor="middle">time (h)</text>
<path d="M414.2 293.2V302.6M412.9 293.2h2.6M412.9 302.6h2.6" stroke="#1c1c1c" stroke-width="0.75" fill="none"/>
<path d="M450.4 254.2V265.9M449.1 254.2h2.6M449.1 265.9h2.6" stroke="#1c1c1c" stroke-width="0.75" fill="none"/>
<path d="M486.6 250.7V252.1M485.3 250.7h2.6M485.3 252.1h2.6" stroke="#1c1c1c" stroke-width="0.75" fill="none"/>
<polyline points="378.0,302.1 414.2,297.9 450.4,260.1 486.6,251.4" fill="none" stroke="#2a345c" stroke-width="1.0"/>
<path d="M378.0 300.7l1.4 1.4l-1.4 1.4l-1.4 -1.4z" fill="#2a345c"/>
<path d="M414.2 296.5l1.4 1.4l-1.4 1.4l-1.4 -1.4z" fill="#2a345c"/>
<path d="M450.4 258.7l1.4 1.4l-1.4 1.4l-1.4 -1.4z" fill="#2a345c"/>
<path d="M486.6 250.0l1.4 1.4l-1.4 1.4l-1.4 -1.4z" fill="#2a345c"/>
<path d="M414.2 311.5V312.9M412.9 311.5h2.6M412.9 312.9h2.6" stroke="#1c1c1c" stroke-width="0.75" fill="none"/>
<path d="M450.4 291.1V298.2M449.1 291.1h2.6M449.1 298.2h2.6" stroke="#1c1c1c" stroke-width="0.75" fill="none"/>
<path d="M486.6 297.2V298.6M485.3 297.2h2.6M485.3 298.6h2.6" stroke="#1c1c1c" stroke-width="0.75" fill="none"/>
<polyline points="378.0,302.1 414.2,312.2 450.4,294.6 486.6,297.9" fill="none" stroke="#43a058" stroke-width="1.0"/>
<rect x="376.8" y="300.9" width="2.4" height="2.4" fill="#43a058"/>
<rect x="413.0" y="311.0" width="2.4" height="2.4" fill="#43a058"/>
<rect x="449.2" y="293.4" width="2.4" height="2.4" fill="#43a058"/>
<rect x="485.4" y="296.7" width="2.4" height="2.4" fill="#43a058"/>
<path d="M414.2 311.5V312.9M412.9 311.5h2.6M412.9 312.9h2.6" stroke="#1c1c1c" stroke-width="0.75" fill="none"/>
<path d="M450.4 301.2V309.1M449.1 301.2h2.6M449.1 309.1h2.6" stroke="#1c1c1c" stroke-width="0.75" fill="none"/>
<path d="M486.6 316.9V318.7M485.3 316.9h2.6M485.3 318.7h2.6" stroke="#1c1c1c" stroke-width="0.75" fill="none"/>
<polyline points="378.0,302.1 414.2,312.2 450.4,305.2 486.6,317.8" fill="none" stroke="#dc5c44" stroke-width="1.0"/>
<path d="M378.0 300.6l1.5 2.6h-3z" fill="#dc5c44"/>
<path d="M414.2 310.7l1.5 2.6h-3z" fill="#dc5c44"/>
<path d="M450.4 303.7l1.5 2.6h-3z" fill="#dc5c44"/>
<path d="M486.6 316.3l1.5 2.6h-3z" fill="#dc5c44"/>
<line x1="493.8" y1="240.5" x2="501.8" y2="240.5" stroke="#2a345c" stroke-width="0.9"/>
<path d="M497.8 239.1l1.4 1.4l-1.4 1.4l-1.4 -1.4z" fill="#2a345c"/>
<text x="502.2" y="242.5" font-size="6.1">0</text>
<line x1="493.8" y1="253.2" x2="501.8" y2="253.2" stroke="#43a058" stroke-width="0.9"/>
<rect x="496.6" y="252.0" width="2.4" height="2.4" fill="#43a058"/>
<text x="502.2" y="255.2" font-size="6.1">30</text>
<line x1="493.8" y1="265.7" x2="501.8" y2="265.7" stroke="#dc5c44" stroke-width="0.9"/>
<path d="M497.8 264.2l1.5 2.6h-3z" fill="#dc5c44"/>
<text x="502.2" y="267.7" font-size="6.1">60</text>
</g>
<g id="pD">
<line class="ax" x1="67.1" y1="386.1" x2="67.1" y2="526.6"/>
<line class="ax" x1="67.1" y1="526.6" x2="222.49999999999997" y2="526.6"/>
<line class="ax" x1="64.6" y1="526.6" x2="67.1" y2="526.6"/>
<text transform="translate(60.099999999999994,530.1) scale(0.94,1.06)" font-size="8.6" text-anchor="end" fill="#000">0</text>
<line class="ax" x1="64.6" y1="511.0" x2="67.1" y2="511.0"/>
<text transform="translate(60.099999999999994,514.5) scale(0.94,1.06)" font-size="8.6" text-anchor="end" fill="#000">200</text>
<line class="ax" x1="64.6" y1="495.4" x2="67.1" y2="495.4"/>
<text transform="translate(60.099999999999994,498.9) scale(0.94,1.06)" font-size="8.6" text-anchor="end" fill="#000">400</text>
<line class="ax" x1="64.6" y1="479.8" x2="67.1" y2="479.8"/>
<text transform="translate(60.099999999999994,483.3) scale(0.94,1.06)" font-size="8.6" text-anchor="end" fill="#000">600</text>
<line class="ax" x1="64.6" y1="464.2" x2="67.1" y2="464.2"/>
<text transform="translate(60.099999999999994,467.7) scale(0.94,1.06)" font-size="8.6" text-anchor="end" fill="#000">800</text>
<line class="ax" x1="64.6" y1="448.5" x2="67.1" y2="448.5"/>
<text transform="translate(60.099999999999994,452.0) scale(0.94,1.06)" font-size="8.6" text-anchor="end" fill="#000">1000</text>
<line class="ax" x1="64.6" y1="432.9" x2="67.1" y2="432.9"/>
<text transform="translate(60.099999999999994,436.4) scale(0.94,1.06)" font-size="8.6" text-anchor="end" fill="#000">1200</text>
<line class="ax" x1="64.6" y1="417.3" x2="67.1" y2="417.3"/>
<text transform="translate(60.099999999999994,420.8) scale(0.94,1.06)" font-size="8.6" text-anchor="end" fill="#000">1400</text>
<line class="ax" x1="64.6" y1="401.7" x2="67.1" y2="401.7"/>
<text transform="translate(60.099999999999994,405.2) scale(0.94,1.06)" font-size="8.6" text-anchor="end" fill="#000">1600</text>
<line class="ax" x1="64.6" y1="386.1" x2="67.1" y2="386.1"/>
<text transform="translate(60.099999999999994,389.6) scale(0.94,1.06)" font-size="8.6" text-anchor="end" fill="#000">1800</text>
<line class="ax" x1="67.1" y1="526.6" x2="67.1" y2="529.1"/>
<text x="67.1" y="540.4" font-size="8.1" text-anchor="middle" fill="#000">0</text>
<line class="ax" x1="105.9" y1="526.6" x2="105.9" y2="529.1"/>
<text x="105.9" y="540.4" font-size="8.1" text-anchor="middle" fill="#000">5</text>
<line class="ax" x1="144.8" y1="526.6" x2="144.8" y2="529.1"/>
<text x="144.8" y="540.4" font-size="8.1" text-anchor="middle" fill="#000">10</text>
<line class="ax" x1="183.6" y1="526.6" x2="183.6" y2="529.1"/>
<text x="183.6" y="540.4" font-size="8.1" text-anchor="middle" fill="#000">15</text>
<line class="ax" x1="222.5" y1="526.6" x2="222.5" y2="529.1"/>
<text x="222.5" y="540.4" font-size="8.1" text-anchor="middle" fill="#000">20</text>
<text class="b" transform="translate(32.3,455.8) rotate(-90)" font-size="9.2" text-anchor="middle">Tumor volume (mm3)</text>
<text class="b" x="144.8" y="557.2" font-size="8.3" text-anchor="middle">days</text>
<path d="M183.6 393.0V430.4M180.8 393.0h5.6M180.8 430.4h5.6" stroke="#151515" stroke-width="0.85" fill="none"/>
<path d="M183.6 456.0V474.7M180.8 456.0h5.6M180.8 474.7h5.6" stroke="#151515" stroke-width="0.85" fill="none"/>
<path d="M129.3 476.6V489.9M127.1 476.6h4.4M127.1 489.9h4.4" stroke="#151515" stroke-width="0.85" fill="none"/>
<path d="M129.3 491.5V499.3M127.1 491.5h4.4M127.1 499.3h4.4" stroke="#151515" stroke-width="0.85" fill="none"/>
<path d="M74.9 507.1V513.3M72.9 507.1h4M72.9 513.3h4" stroke="#151515" stroke-width="0.85" fill="none"/>
<polyline points="74.9,510.2 129.3,483.3 183.6,411.7" fill="none" stroke="#111" stroke-width="1.5"/>
<polyline points="74.9,511.8 129.3,495.4 183.6,465.3" fill="none" stroke="#111" stroke-width="1.5" stroke-dasharray="2.6 4.6"/>
<path d="M74.9 506.8l3 3.4l-3 3.4l-3 -3.4z" fill="#000"/>
<path d="M129.3 479.9l3 3.4l-3 3.4l-3 -3.4z" fill="#000"/>
<path d="M183.6 408.3l3 3.4l-3 3.4l-3 -3.4z" fill="#000"/>
<circle cx="74.9" cy="511.8" r="3.1" fill="#000"/>
<circle cx="129.3" cy="495.4" r="3.1" fill="#000"/>
<circle cx="183.6" cy="465.3" r="3.1" fill="#000"/>
<path d="M76.2 490V502.5" stroke="#000" stroke-width="1.5" fill="none"/><path d="M73.4 499.5L76.2 504.5L79.0 499.5L76.2 500.9Z" stroke="#000" stroke-width="0.6" fill="#000"/>
<path d="M129.6 460.2V472.5" stroke="#000" stroke-width="1.5" fill="none"/><path d="M126.8 469.5L129.6 474.5L132.4 469.5L129.6 470.9Z" stroke="#000" stroke-width="0.6" fill="#000"/>
<line x1="73" y1="397.6" x2="98.7" y2="397.6" stroke="#111" stroke-width="1.5"/>
<path d="M85.8 394.6l2.7 3l-2.7 3l-2.7 -3z" fill="#000"/>
<text x="100" y="400.3" font-size="7.95">Vehicle</text>
<line x1="73.3" y1="411.3" x2="98.7" y2="411.3" stroke="#111" stroke-width="1.5" stroke-dasharray="2.4 5"/>
<circle cx="85.6" cy="411.3" r="2.8" fill="#000"/>
<text x="100" y="413.9" font-size="7.8">STF083010</text>
</g>
<g id="pE">
<line class="ax" x1="285.3" y1="409.7" x2="285.3" y2="525.5"/>
<line class="ax" x1="285.3" y1="525.5" x2="471.0" y2="525.5"/>
<line class="ax" x1="282.8" y1="525.5" x2="285.3" y2="525.5"/>
<text transform="translate(278.7,527.9) scale(0.9,1.08)" font-size="7.0" text-anchor="end">0</text>
<line class="ax" x1="282.8" y1="506.2" x2="285.3" y2="506.2"/>
<text transform="translate(278.7,508.6) scale(0.9,1.08)" font-size="7.0" text-anchor="end">20</text>
<line class="ax" x1="282.8" y1="486.9" x2="285.3" y2="486.9"/>
<text transform="translate(278.7,489.3) scale(0.9,1.08)" font-size="7.0" text-anchor="end">40</text>
<line class="ax" x1="282.8" y1="467.6" x2="285.3" y2="467.6"/>
<text transform="translate(278.7,470.0) scale(0.9,1.08)" font-size="7.0" text-anchor="end">60</text>
<line class="ax" x1="282.8" y1="448.3" x2="285.3" y2="448.3"/>
<text transform="translate(278.7,450.7) scale(0.9,1.08)" font-size="7.0" text-anchor="end">80</text>
<line class="ax" x1="282.8" y1="429.0" x2="285.3" y2="429.0"/>
<text transform="translate(278.7,431.4) scale(0.9,1.08)" font-size="7.0" text-anchor="end">100</text>
<line class="ax" x1="282.8" y1="409.7" x2="285.3" y2="409.7"/>
<text transform="translate(278.7,412.1) scale(0.9,1.08)" font-size="7.0" text-anchor="end">120</text>
<line class="ax" x1="285.3" y1="525.5" x2="285.3" y2="528.0"/>
<text transform="translate(285.6,537.8) scale(0.9,1.08)" font-size="7.0" text-anchor="middle">0</text>
<line class="ax" x1="347.2" y1="525.5" x2="347.2" y2="528.0"/>
<text transform="translate(347.5,537.8) scale(0.9,1.08)" font-size="7.0" text-anchor="middle">50</text>
<line class="ax" x1="409.1" y1="525.5" x2="409.1" y2="528.0"/>
<text transform="translate(409.4,537.8) scale(0.9,1.08)" font-size="7.0" text-anchor="middle">100</text>
<line class="ax" x1="471.0" y1="525.5" x2="471.0" y2="528.0"/>
<text transform="translate(471.3,537.8) scale(0.9,1.08)" font-size="7.0" text-anchor="middle">150</text>
<text transform="translate(262.6,466.9) rotate(-90)" font-size="7.1" text-anchor="middle">Relative survival (%)</text>
<text class="b" x="378" y="546.2" font-size="7.4" text-anchor="middle">STF-083010 (µM)</text>
<path d="M322.4 476.3V488.8M320.8 476.3h3.2" stroke="#222" stroke-width="0.7" fill="none"/>
<path d="M359.6 489.8V505.2M358.0 489.8h3.2" stroke="#222" stroke-width="0.7" fill="none"/>
<path d="M433.9 513.4V518.3M432.3 513.4h3.2" stroke="#222" stroke-width="0.7" fill="none"/>
<path d="M303.9 421.3V460.8M302.3 421.3h3.2M302.3 460.8h3.2" stroke="#222" stroke-width="0.7" fill="none"/>
<path d="M322.4 425.1V457.9M320.8 425.1h3.2M320.8 457.9h3.2" stroke="#222" stroke-width="0.7" fill="none"/>
<path d="M359.6 437.2V475.8M358.0 437.2h3.2M358.0 475.8h3.2" stroke="#222" stroke-width="0.7" fill="none"/>
<path d="M433.9 453.1V485.9M432.3 453.1h3.2" stroke="#222" stroke-width="0.7" fill="none"/>
<path d="M303.9 420.3V430.9M302.3 420.3h3.2" stroke="#222" stroke-width="0.7" fill="none"/>
<path d="M322.4 420.3V436.7M320.8 420.3h3.2" stroke="#222" stroke-width="0.7" fill="none"/>
<path d="M359.6 429.0V453.1M358.0 429.0h3.2" stroke="#222" stroke-width="0.7" fill="none"/>
<path d="M433.9 425.1V432.9M432.3 425.1h3.2" stroke="#222" stroke-width="0.7" fill="none"/>
<path d="M433.9 453.6V476.8M432.3 453.6h3.2M432.3 476.8h3.2" stroke="#222" stroke-width="0.7" fill="none"/>
<polyline points="285.3,429.0 288.4,430.9 294.6,432.9 303.9,460.8 322.4,488.8 359.6,505.2 433.9,518.3" fill="none" stroke="#111" stroke-width="1.6"/>
<polyline points="285.3,429.0 303.9,441.5 322.4,444.4 359.6,464.2 433.9,485.9" fill="none" stroke="#111" stroke-width="1.4" stroke-dasharray="1.3 1.4"/>
<polyline points="285.3,429.0 303.9,430.9 322.4,436.7 359.6,453.1 433.9,432.9" fill="none" stroke="#111" stroke-width="1.6" stroke-dasharray="5.2 3.2"/>
<polyline points="285.3,429.0 303.9,433.8 322.4,457.9 359.6,476.3 433.9,465.2" fill="none" stroke="#111" stroke-width="1.4" stroke-dasharray="5 2.4 1.4 2.4"/>
<path d="M285.3 426.2l2.70 2.80l-2.70 2.80l-2.70 -2.80z" fill="#000"/>
<path d="M288.4 428.1l2.70 2.80l-2.70 2.80l-2.70 -2.80z" fill="#000"/>
<path d="M294.6 430.1l2.70 2.80l-2.70 2.80l-2.70 -2.80z" fill="#000"/>
<path d="M303.9 458.0l2.70 2.80l-2.70 2.80l-2.70 -2.80z" fill="#000"/>
<path d="M322.4 486.0l2.70 2.80l-2.70 2.80l-2.70 -2.80z" fill="#000"/>
<path d="M359.6 502.4l2.70 2.80l-2.70 2.80l-2.70 -2.80z" fill="#000"/>
<path d="M433.9 515.5l2.70 2.80l-2.70 2.80l-2.70 -2.80z" fill="#000"/>
<rect x="282.6" y="426.3" width="5.40" height="5.40" fill="#000"/>
<rect x="301.2" y="438.8" width="5.40" height="5.40" fill="#000"/>
<rect x="319.7" y="441.7" width="5.40" height="5.40" fill="#000"/>
<rect x="356.9" y="461.5" width="5.40" height="5.40" fill="#000"/>
<rect x="431.2" y="483.2" width="5.40" height="5.40" fill="#000"/>
<path d="M303.9 427.9l2.70 5.00h-5.40z" fill="#000"/>
<path d="M322.4 433.7l2.70 5.00h-5.40z" fill="#000"/>
<path d="M359.6 450.1l2.70 5.00h-5.40z" fill="#000"/>
<path d="M433.9 429.9l2.70 5.00h-5.40z" fill="#000"/>
<path d="M301.2 431.1l5.40 5.40M301.2 436.5l5.40 -5.40" stroke="#111" stroke-width="0.85" fill="none"/>
<path d="M319.7 455.2l5.40 5.40M319.7 460.6l5.40 -5.40" stroke="#111" stroke-width="0.85" fill="none"/>
<path d="M356.9 473.6l5.40 5.40M356.9 479.0l5.40 -5.40" stroke="#111" stroke-width="0.85" fill="none"/>
<path d="M431.2 462.5l5.40 5.40M431.2 467.9l5.40 -5.40" stroke="#111" stroke-width="0.85" fill="none"/>
<path d="M446.3 406.3H466" stroke="#111" stroke-width="1.4" fill="none"/>
<path d="M456.1 404.1l2.16 2.24l-2.16 2.24l-2.16 -2.24z" fill="#000"/>
<text x="467.6" y="408.7" font-size="7.15">MM-cells</text>
<path d="M446.3 418.1H466" stroke="#111" stroke-width="1.3" stroke-dasharray="1.1 1.1" fill="none"/>
<rect x="454.0" y="415.9" width="4.32" height="4.32" fill="#000"/>
<text x="467.6" y="420.5" font-size="7.15">CD19+ 7AAD-</text>
<path d="M446.6 430.2h5M458.8 430.2h3" stroke="#111" stroke-width="1.4" fill="none"/>
<path d="M456.1 427.8l2.16 4.00h-4.32z" fill="#000"/>
<text x="467.6" y="432.59999999999997" font-size="7.15">CD3+ 7AAD-</text>
<path d="M446.6 442h5M460.6 442h5" stroke="#111" stroke-width="1.3" fill="none"/>
<path d="M454.0 439.8l4.32 4.32M454.0 444.2l4.32 -4.32" stroke="#111" stroke-width="0.85" fill="none"/>
<text x="467.6" y="444.4" font-size="7.15">CD56+ 7AAD-</text>
</g>
</svg></body></html>
